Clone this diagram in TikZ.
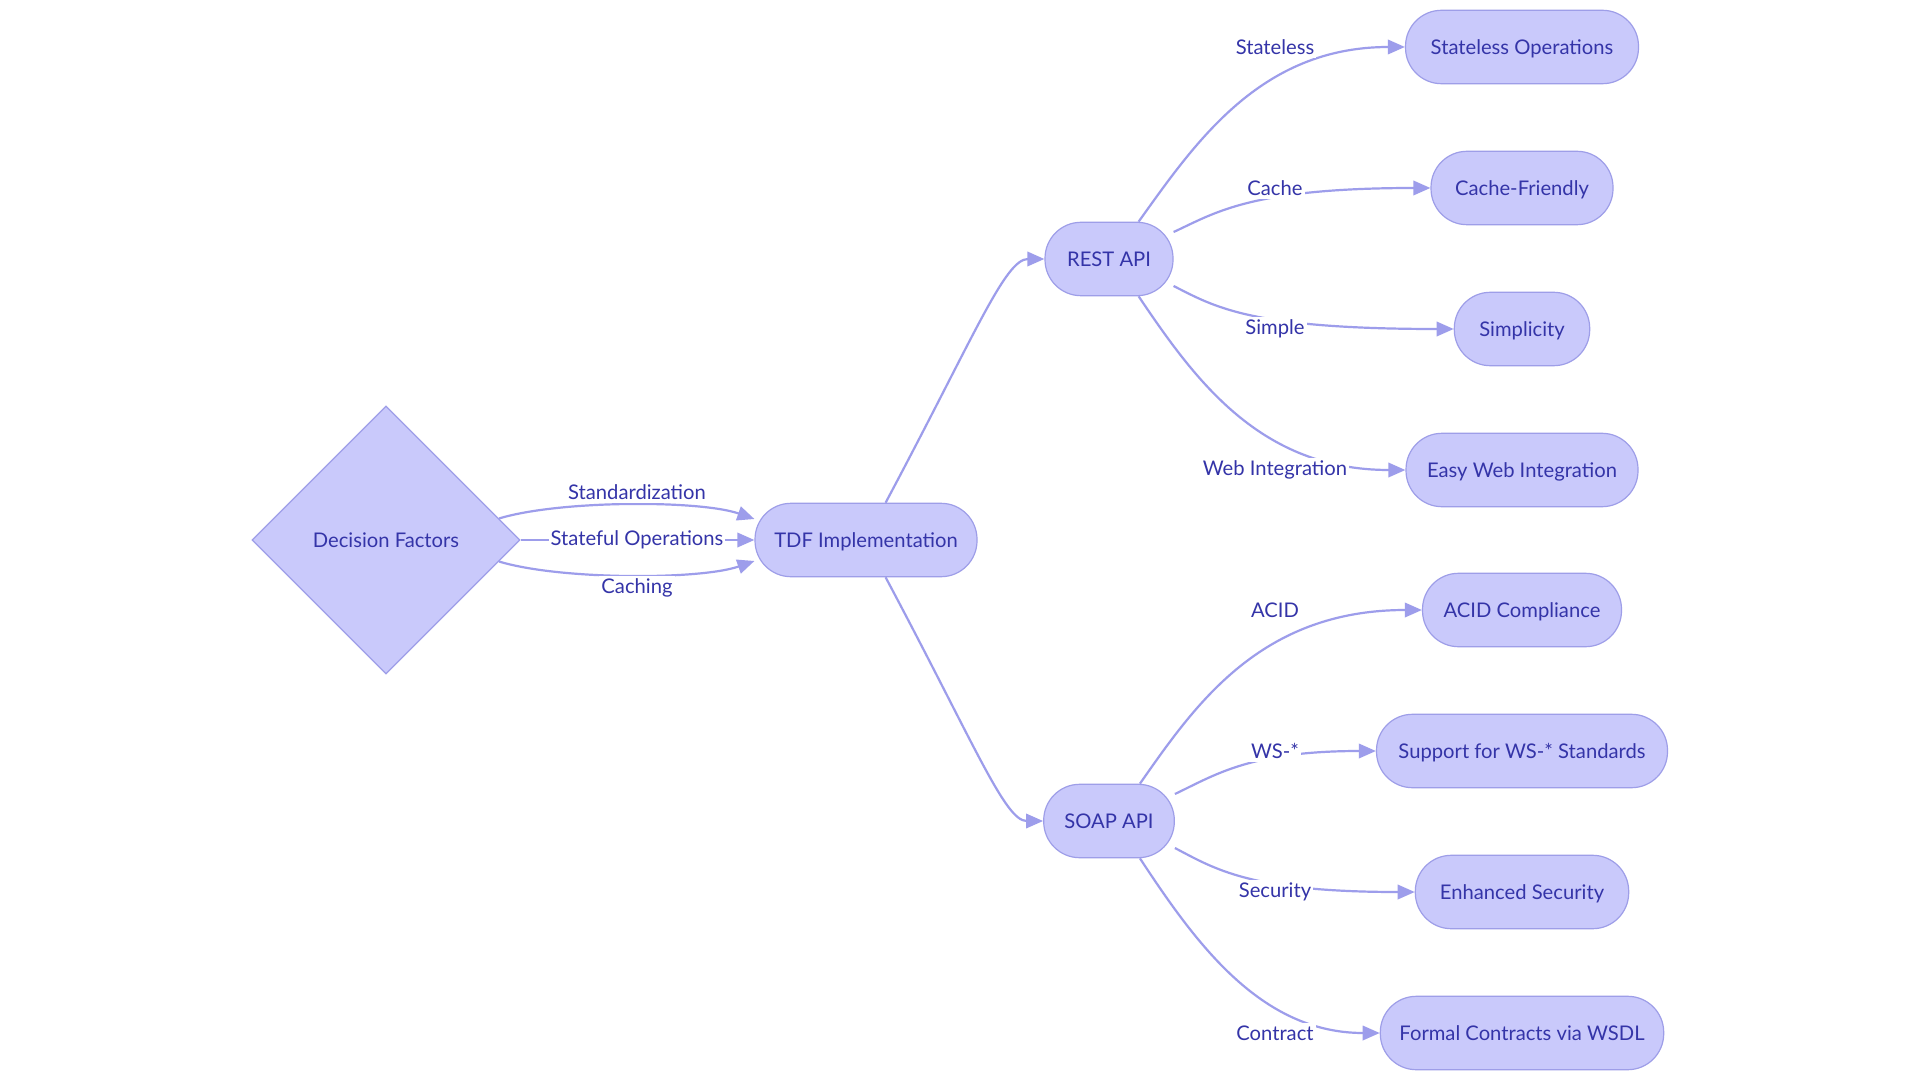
\documentclass[tikz,border=0pt]{standalone}
\usepackage{fontspec}
\setmainfont{Lato}
\usetikzlibrary{shapes.geometric,arrows.meta,calc}
\definecolor{nodefill}{HTML}{C9C9FB}
\definecolor{nodeborder}{HTML}{9E9EE8}
\definecolor{edgec}{HTML}{9D9DEB}
\definecolor{textc}{HTML}{3434A8}
\newcommand{\lblfont}{\fontsize{10.1pt}{12pt}\selectfont}
\tikzset{
  box/.style={draw=nodeborder, fill=nodefill, rounded corners=18pt, minimum height=36.7pt,
    inner xsep=0pt, inner ysep=0pt, text=textc, font=\lblfont, line width=0.6pt,
    text height=0.86em, text depth=0.1em},
  decbox/.style={diamond, aspect=1, draw=nodeborder, fill=nodefill, minimum width=134pt,
    minimum height=134pt, inner sep=0pt, text=textc, font=\lblfont, line width=0.6pt,
    text height=0.86em, text depth=0.1em},
  edge/.style={draw=edgec, line width=1.1pt, -{Triangle[length=8.5pt,width=7.2pt]}},
  elabel/.style={fill=white, text=textc, font=\lblfont, inner xsep=1pt, inner ysep=1.5pt}
}
\begin{document}
\begin{tikzpicture}[x=0.5pt,y=-0.5pt]
\fill[white] (0,0) rectangle (1920,1080);
\useasboundingbox (0,0) rectangle (1920,1080);

% nodes
\node[decbox] (dec) at (386,540) {Decision Factors};
\node[box, minimum width=111pt] (tdf) at (866,540) {TDF Implementation};
\node[box, minimum width=64pt] (rest) at (1109,259) {REST API};
\node[box, minimum width=65.3pt] (soap) at (1109,821) {SOAP API};

\node[box, minimum width=116.5pt] (n1) at (1522,47) {Stateless Operations};
\node[box, minimum width=91pt] (n2) at (1522,188) {Cache-Friendly};
\node[box, minimum width=67.7pt] (n3) at (1522,329) {Simplicity};
\node[box, minimum width=116pt] (n4) at (1522,470) {Easy Web Integration};
\node[box, minimum width=99.5pt] (n5) at (1522,610) {ACID Compliance};
\node[box, minimum width=145.5pt] (n6) at (1522,751) {Support for WS-* Standards};
\node[box, minimum width=106.7pt] (n7) at (1522,892) {Enhanced Security};
\node[box, minimum width=141.7pt] (n8) at (1522,1033) {Formal Contracts via WSDL};

% left edges
\draw[edge] ($(dec.east)!0.16!(dec.north)$) .. controls (560,500) and (700,500) .. ($(tdf.west)+(0,-21)$);
\draw[edge] (dec.east) -- (tdf.west);
\draw[edge] ($(dec.east)!0.16!(dec.south)$) .. controls (560,580) and (700,580) .. ($(tdf.west)+(0,21)$);

% tdf to apis
\draw[edge] ($(tdf.north east)+(-92,0)$) .. controls (975,335) and (1005,259) .. (rest.west);
\draw[edge] ($(tdf.south east)+(-92,0)$) .. controls (975,745) and (1005,821) .. (soap.west);

% rest children
\draw[edge] ($(rest.north east)+(-35,0)$) .. controls (1195,143) and (1260,47) .. (n1.west);
\draw[edge] ($(rest.east)+(0,-27)$) .. controls (1215,213) and (1250,188) .. (n2.west);
\draw[edge] ($(rest.east)+(0,27)$) .. controls (1215,307) and (1250,329) .. (n3.west);
\draw[edge] ($(rest.south east)+(-35,0)$) .. controls (1195,380) and (1260,470) .. (n4.west);

% soap children
\draw[edge] ($(soap.north east)+(-35,0)$) .. controls (1195,705) and (1260,610) .. (n5.west);
\draw[edge] ($(soap.east)+(0,-27)$) .. controls (1215,775) and (1250,751) .. (n6.west);
\draw[edge] ($(soap.east)+(0,27)$) .. controls (1215,869) and (1250,892) .. (n7.west);
\draw[edge] ($(soap.south east)+(-35,0)$) .. controls (1195,942) and (1260,1033) .. (n8.west);

% edge labels
\node[elabel] (l1) at (637,492) {Standardization};
\node[elabel] (l2) at (637,540) {Stateful Operations};
\node[elabel] (l3) at (637,588) {Caching};
\node[elabel] (r1) at (1275,47) {Stateless};
\node[elabel] (r2) at (1275,188) {Cache};
\node[elabel] (r3) at (1275,329) {Simple};
\node[elabel] (r4) at (1275,470) {Web Integration};
\node[elabel] (s1) at (1275,610) {ACID};
\node[elabel] (s2) at (1275,751) {WS-*};
\node[elabel] (s3) at (1275,892) {Security};
\node[elabel] (s4) at (1275,1033) {Contract};
\end{tikzpicture}
\end{document}
